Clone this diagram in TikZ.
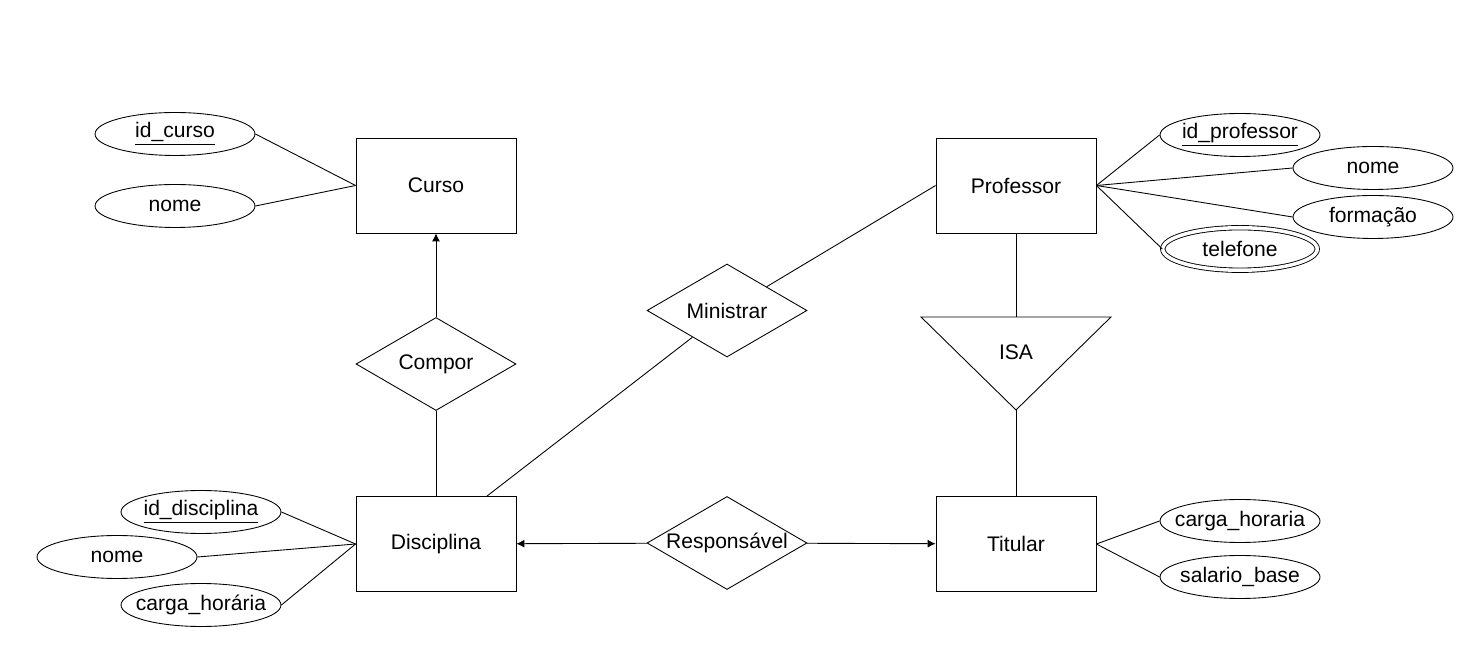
\documentclass[tikz,border=0pt]{standalone}
\usepackage{fontspec}
\setmainfont{Liberation Sans}
\usetikzlibrary{shapes.geometric,arrows.meta}

\tikzset{
  entity/.style={draw, minimum width=3.2cm, minimum height=1.9cm, inner sep=0pt},
  relation/.style={draw, diamond, aspect=1.74, minimum width=3.2cm, minimum height=1.86cm, inner xsep=-2pt, inner ysep=0pt},
  attrib/.style={draw, ellipse, minimum width=3.2cm, minimum height=0.86cm, inner xsep=-5pt, inner ysep=0pt},
  multiattrib/.style={attrib, double, double distance=2pt, minimum width=3.09cm, minimum height=0.85cm},
}

\begin{document}
\begin{tikzpicture}[x=0.02cm, y=-0.02cm, line width=0.5pt,
    font=\fontsize{12}{14}\selectfont, >={Latex[length=4.5pt,width=4.5pt]}]
  \useasboundingbox (0,0) rectangle (1471,661);

  % entidades
  \node[entity] (curso) at (436,185.5) {Curso};
  \node[entity] (prof) at (1016,185.5) {Professor};
  \node[entity] (disc) at (436,544) {Disciplina};
  \node[entity] (tit) at (1016,544) {Titular};

  % relacionamentos
  \node[relation] (compor) at (436,364) {Compor};
  \node[relation] (ministrar) at (727,310.5) {Ministrar};
  \node[relation] (resp) at (727,543) {Responsável};

  % atributos
  \node[attrib] (idcurso) at (175,134) {\underline{id\_curso}};
  \node[attrib] (nomecurso) at (175,206) {nome};
  \node[attrib] (idprof) at (1240,135) {\underline{id\_professor}};
  \node[attrib] (nomeprof) at (1373,168) {nome};
  \node[attrib] (formacao) at (1373,217) {formação};
  \node[multiattrib] (telefone) at (1240,249) {telefone};
  \node[attrib] (iddisc) at (201,512) {\underline{id\_disciplina}};
  \node[attrib] (nomedisc) at (117,557) {nome};
  \node[attrib] (cargadisc) at (201,605) {carga\_horária};
  \node[attrib] (cargatit) at (1240,521) {carga\_horaria};
  \node[attrib] (salario) at (1240,577) {salario\_base};

  % especializacao
  \coordinate (isatop) at (1016,317);
  \coordinate (isatip) at (1016,410);
  \draw (isatop) +(-95,0) -- +(95,0) -- (isatip) -- cycle;
  \node (isa) at (1016,352) {ISA};

  \draw (curso.west) -- (idcurso.east);
  \draw (curso.west) -- (nomecurso.east);
  \draw (prof.east) -- (idprof.west);
  \draw (prof.east) -- (nomeprof.west);
  \draw (prof.east) -- (formacao.west);
  \draw (prof.east) -- (telefone.west);
  \draw (disc.west) -- (iddisc.east);
  \draw (disc.west) -- (nomedisc.east);
  \draw (disc.west) -- (cargadisc.east);
  \draw (tit.east) -- (cargatit.west);
  \draw (tit.east) -- (salario.west);

  \draw[->] (compor) -- (curso);
  \draw (compor) -- (disc);
  \draw ([xshift=1.02cm]disc.north) -- (ministrar);
  \draw (ministrar) -- (prof.west);
  \draw[->] (resp) -- (disc);
  \draw[->] (resp) -- (tit);
  \draw (prof.south) -- (isatop);
  \draw (isatip) -- (tit.north);
\end{tikzpicture}
\end{document}
